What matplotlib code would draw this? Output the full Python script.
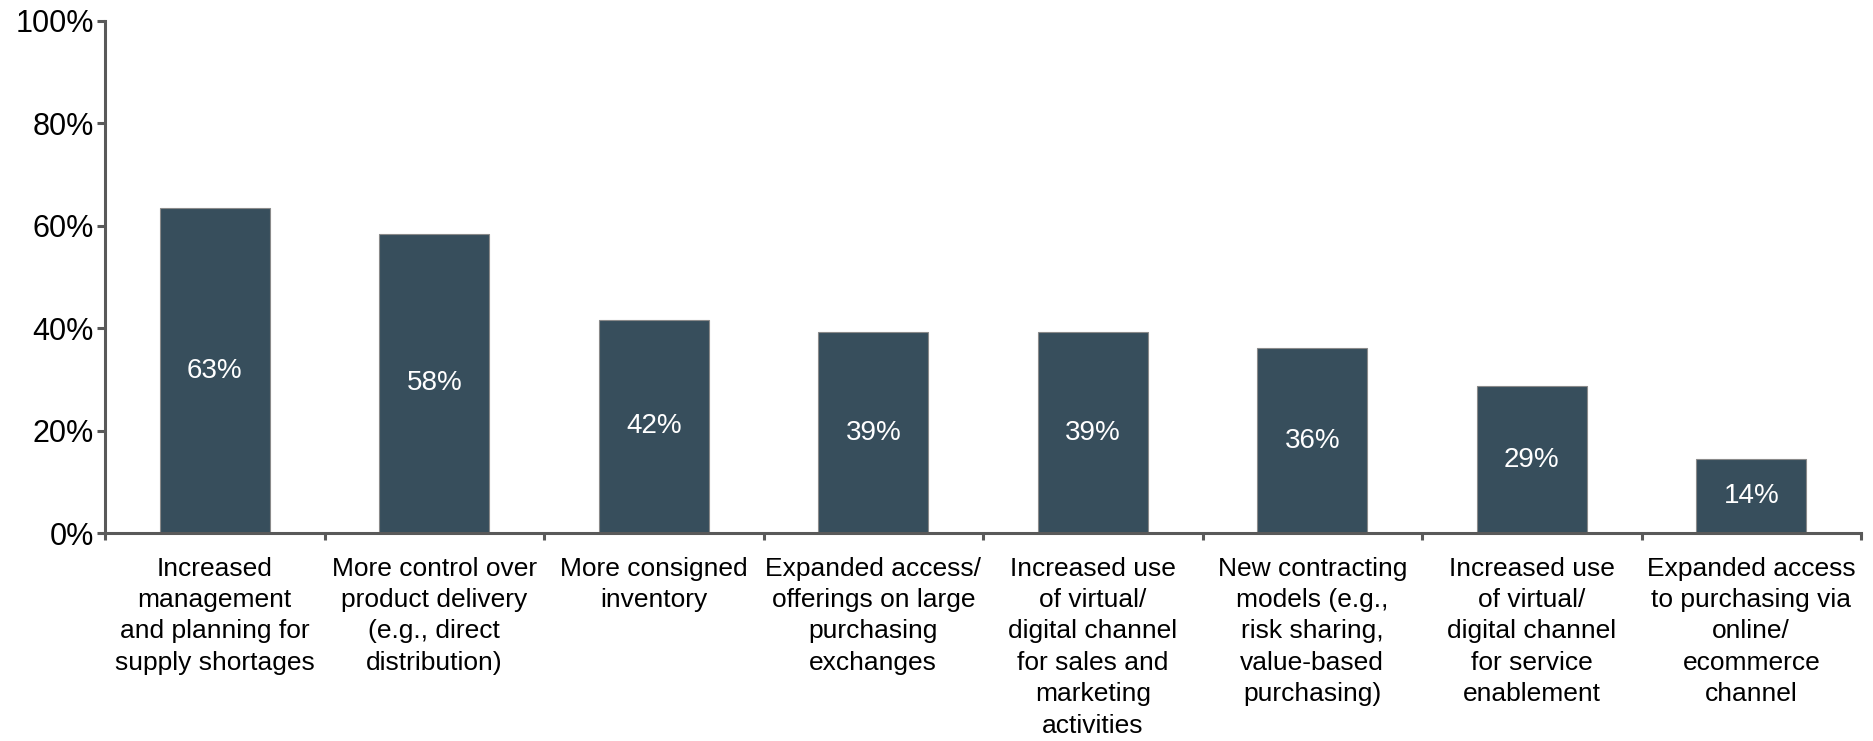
import matplotlib
matplotlib.use("Agg")
import matplotlib.pyplot as plt
import numpy as np

categories = [
    "Increased\nmanagement\nand planning for\nsupply shortages",
    "More control over\nproduct delivery\n(e.g., direct\ndistribution)",
    "More consigned\ninventory",
    "Expanded access/\nofferings on large\npurchasing\nexchanges",
    "Increased use\nof virtual/\ndigital channel\nfor sales and\nmarketing\nactivities",
    "New contracting\nmodels (e.g.,\nrisk sharing,\nvalue-based\npurchasing)",
    "Increased use\nof virtual/\ndigital channel\nfor service\nenablement",
    "Expanded access\nto purchasing via\nonline/\necommerce\nchannel",
]
values = [63.4, 58.4, 41.6, 39.2, 39.2, 36.1, 28.7, 14.4]
y_ticks = [0, 20, 40, 60, 80, 100]
y_tick_labels = ["0%", "20%", "40%", "60%", "80%", "100%"]

plt.rcParams["font.family"] = ["Liberation Sans", "DejaVu Sans"]

bar_color = "#374e5c"
axis_color = "#595959"

fig = plt.figure(figsize=(18.73, 7.41), dpi=100)
ax = fig.add_axes([0.0561, 0.2807, 0.9375, 0.691])

x = np.arange(len(categories))
bars = ax.bar(x, values, width=0.5, color=bar_color, edgecolor="#8a8a8a",
              linewidth=0.8, zorder=2)

for xi, v in zip(x, values):
    ax.text(xi, v / 2, f"{round(v):d}%", ha="center", va="center",
            color="white", fontsize=20, zorder=3)

ax.set_xlim(-0.5, len(categories) - 0.5)
ax.set_ylim(0, 100)

ax.set_yticks(y_ticks)
ax.set_yticklabels(y_tick_labels, fontsize=22)

ax.set_xticks(x)
ax.set_xticklabels(categories, fontsize=19, linespacing=1.39)
ax.set_xticks(np.arange(len(categories) + 1) - 0.5, minor=True)

ax.tick_params(axis="x", which="major", length=0, pad=17)
ax.tick_params(axis="x", which="minor", length=5, width=2.2, color=axis_color,
               direction="out")
ax.tick_params(axis="y", which="major", length=6, width=2.2, color=axis_color,
               pad=2)

for side in ("top", "right"):
    ax.spines[side].set_visible(False)
for side in ("left", "bottom"):
    ax.spines[side].set_color(axis_color)
    ax.spines[side].set_linewidth(2.2)

fig.savefig("out.png", dpi=100)
